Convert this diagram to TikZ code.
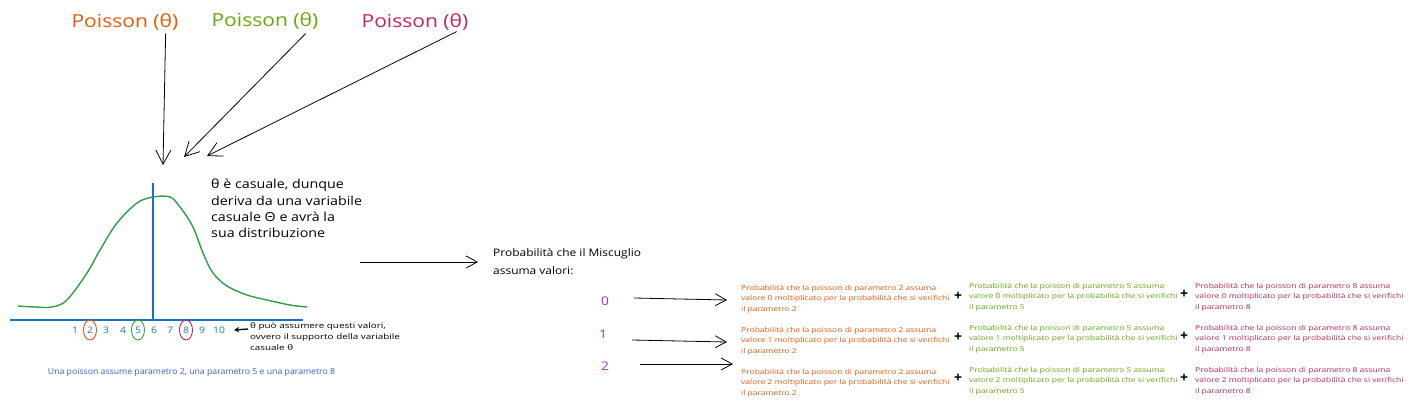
\documentclass[tikz,border=0pt]{standalone}
\usepackage{fontspec}
\setmainfont{Open Sans}
\newfontfamily\fpois[FakeStretch=1.17]{Open Sans}
\newfontfamily\fbig[FakeStretch=1.05]{Open Sans}
\newfontfamily\fmid[FakeStretch=1.15]{Open Sans}
\newfontfamily\fsmall[FakeStretch=1.3]{Open Sans}
\newfontfamily\fblk[FakeStretch=1.25]{Open Sans}
\usetikzlibrary{arrows.meta,shapes.geometric}
\definecolor{orng}{HTML}{E8590C}
\definecolor{grn}{HTML}{66A80F}
\definecolor{mag}{HTML}{C2255C}
\definecolor{curvegrn}{HTML}{2F9E44}
\definecolor{axisblue}{HTML}{1971C2}
\definecolor{teal}{HTML}{0C8599}
\definecolor{notblue}{HTML}{3B5BDB}
\definecolor{purp}{HTML}{9C36B5}
\begin{document}
\begin{tikzpicture}[x=1pt,y=-1pt,
  arr/.style={draw=black, line width=0.8pt, -{Straight Barb[length=11pt,width=12pt,line width=0.8pt]}},
  bigarr/.style={draw=black, line width=0.8pt, -{Straight Barb[length=14pt,width=15pt,line width=0.8pt]}},
  larr/.style={draw=black, line width=1.3pt, -{Stealth[length=5pt,width=5.5pt]}},
  big/.style={inner sep=0pt, font=\fpois\fontsize{18}{20}\selectfont},
  num/.style={inner sep=0pt, text=teal, font=\fmid\fontsize{9}{11}\selectfont},
  ring/.style={ellipse, inner sep=0pt, minimum width=13pt, minimum height=20pt, line width=0.9pt},
  blk/.style={inner sep=0pt, anchor=west, align=left, font=\fblk\fontsize{6.8}{10.5}\selectfont},
  plus/.style={inner sep=0pt, font=\fontsize{14}{14}\selectfont\bfseries},
  val/.style={inner sep=0pt, text=purp, font=\fmid\fontsize{12}{12}\selectfont}]
\useasboundingbox[fill=white] (0,0) rectangle (1408,407);

% Poisson labels and arrows
\node[big, text=orng] (p1) at (125,22) {Poisson (θ)};
\node[big, text=grn] (p2) at (265,21) {Poisson (θ)};
\node[big, text=mag] (p3) at (415,22) {Poisson (θ)};
\coordinate (t1) at (163,165);
\coordinate (t2) at (184,157);
\coordinate (t3) at (207,156);
\draw[bigarr] ([xshift=-13pt,yshift=-3pt]p1.south east) -- (t1);
\draw[bigarr] ([xshift=-13pt,yshift=-4pt]p2.south east) -- (t2);
\draw[bigarr] ([xshift=-12pt,yshift=-1pt]p3.south east) -- (t3);

% distribution curve
\draw[curvegrn, line width=1.4pt, line join=round] plot[smooth, tension=0.55] coordinates {
 (18,306) (35,307) (52,307) (67,300) (87,273) (100,250) (117,223) (137,203) (153,197) (170,197)
 (180,207) (193,227) (203,253) (213,273) (227,286) (247,295) (267,300) (290,305) (307,307)};

% axes
\coordinate (vt) at (153,183);
\coordinate (vb) at (153,320);
\coordinate (hl) at (10,320);
\coordinate (hr) at (303,320);
\draw[axisblue, line width=1.2pt] (vt) -- (vb);
\draw[axisblue, line width=1.2pt] (hl) -- (hr);

% numbers
\foreach \n/\x in {1/75,2/90,3/106,4/123,5/138,6/154,7/170,8/186,9/202,10/219}
  \node[num] (n\n) at (\x,330) {\n};
\node[ring, draw=orng] (c2) at (n2) {};
\node[ring, draw=curvegrn!70!grn] (c5) at (n5) {};
\node[ring, draw=mag] (c8) at (n8) {};

% support note
\node[inner sep=0pt, anchor=north west, align=left, font=\fsmall\fontsize{7.6}{11}\selectfont] (supp) at (250,322)
  {θ può assumere questi valori,\\ovvero il supporto della variabile\\casuale θ};
\draw[larr] ([xshift=-2pt,yshift=-7pt]supp.north west) -- ([xshift=9pt]n10.east);

% blue note
\node[inner sep=0pt, text=notblue, font=\fbig\fontsize{8.3}{9}\selectfont] (note) at (191.5,372)
  {Una poisson assume parametro 2, una parametro 5 e una parametro 8};

% theta text
\node[inner sep=0pt, anchor=north west, align=left, font=\fmid\fontsize{12.4}{16.3}\selectfont] (theta) at (211,179)
  {θ è casuale, dunque\\deriva da una variabile\\casuale Θ e avrà la\\sua distribuzione};

% probability of mixture
\node[inner sep=0pt, anchor=west, align=left, font=\fmid\fontsize{10.4}{18}\selectfont] (prob) at (493,262)
  {Probabilità che il Miscuglio\\assuma valori:};
\coordinate (m1) at (360,262);
\draw[arr] (m1) -- ([xshift=-15pt]prob.west);

% values
\node[val] (v0) at (605,301) {0};
\node[val] (v1) at (603,334) {1};
\node[val] (v2) at (605,366) {2};

% blocks
\foreach \i/\yo/\yg in {0/299/297,1/341/339,2/383/381}{
  \node[blk, text=orng] (o\i) at (741,\yo)
    {Probabilità che la poisson di parametro 2 assuma\\valore \i\ moltiplicato per la probabilità che si verifichi\\il parametro 2};
  \node[blk, text=grn] (g\i) at (969,\yg)
    {Probabilità che la poisson di parametro 5 assuma\\valore \i\ moltiplicato per la probabilità che si verifichi\\il parametro 5};
  \node[blk, text=mag] (m\i) at (1195,\yg)
    {Probabilità che la poisson di parametro 8 assuma\\valore \i\ moltiplicato per la probabilità che si verifichi\\il parametro 8};
}
\node[plus] (pa0) at (958,296) {+};
\node[plus] (pa1) at (958,337) {+};
\node[plus] (pa2) at (958,378) {+};
\node[plus] (pb0) at (1184,294) {+};
\node[plus] (pb1) at (1184,336) {+};
\node[plus] (pb2) at (1184,378) {+};

\draw[arr] ([xshift=25pt,yshift=3pt]v0.east) -- ([xshift=-14pt,yshift=-1pt]o0.west);
\draw[arr] ([xshift=25pt,yshift=-6pt]v1.east) -- ([xshift=-14pt,yshift=-1pt]o1.west);
\draw[arr] ([xshift=31pt,yshift=2pt]v2.east) -- ([xshift=-8pt,yshift=19pt]o2.west);
\end{tikzpicture}
\end{document}
